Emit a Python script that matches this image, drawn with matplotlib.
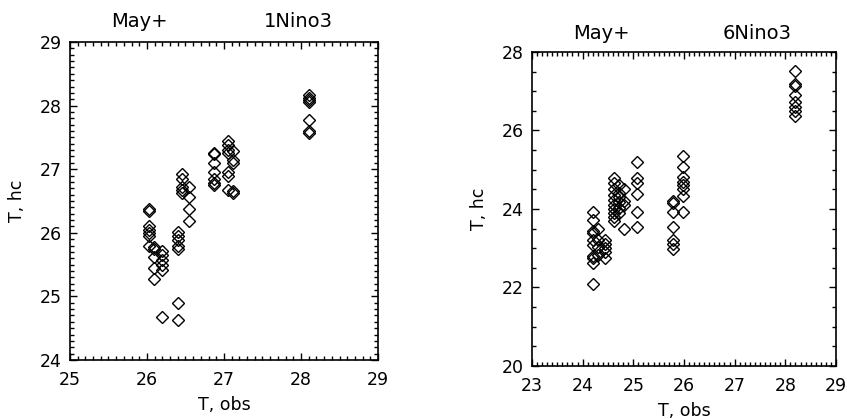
import matplotlib
matplotlib.use('Agg')
import matplotlib.pyplot as plt
from matplotlib.ticker import MultipleLocator

# values: one x (obs) per column, several hindcasts each
left_obs = [26.02, 26.09, 26.19, 26.40, 26.45, 26.54, 26.87, 27.05, 27.12, 28.11]
left_hc = [
    [26.37, 26.34, 26.10, 26.05, 26.00, 25.95, 25.80],
    [25.78, 25.75, 25.62, 25.45, 25.28],
    [25.72, 25.65, 25.58, 25.50, 25.42, 24.68],
    [26.02, 25.95, 25.88, 25.80, 25.75, 24.90, 24.63],
    [26.92, 26.85, 26.72, 26.68, 26.62],
    [26.72, 26.56, 26.38, 26.18],
    [27.26, 27.24, 27.10, 26.95, 26.85, 26.78, 26.75],
    [27.45, 27.38, 27.30, 27.25, 26.95, 26.90, 26.68],
    [27.28, 27.15, 27.10, 26.65, 26.62],
    [28.17, 28.12, 28.08, 28.05, 27.77, 27.60, 27.57],
]

right_obs = [24.20, 24.30, 24.45, 24.62, 24.72, 24.82, 25.07, 25.79, 25.99, 28.19]
right_hc = [
    [23.92, 23.72, 23.45, 23.40, 23.22, 23.08, 22.80, 22.75, 22.62, 22.10],
    [23.50, 23.20, 23.02, 22.82],
    [23.22, 23.10, 23.00, 22.90, 22.75],
    [24.80, 24.65, 24.50, 24.35, 24.22, 24.10, 24.00, 23.90, 23.80, 23.70],
    [24.60, 24.42, 24.30, 24.18, 24.02, 23.90],
    [24.50, 24.20, 24.10, 23.50],
    [25.19, 24.80, 24.65, 24.38, 23.92, 23.53],
    [24.20, 24.15, 23.92, 23.55, 23.20, 23.10, 22.98],
    [25.34, 25.08, 24.82, 24.70, 24.60, 24.52, 24.32, 23.93],
    [27.52, 27.18, 27.14, 26.90, 26.72, 26.60, 26.50, 26.38],
]

left_title = ('May+', '1Nino3')
right_title = ('May+', '6Nino3')


def flatten(obs, hc):
    xs, ys = [], []
    for x, col in zip(obs, hc):
        for y in col:
            xs.append(x)
            ys.append(y)
    return xs, ys


def draw_panel(fig, rect, obs, hc, xlim, ylim, xminor, ymajor, yminor, titles, title_y):
    ax = fig.add_axes(rect)
    xs, ys = flatten(obs, hc)
    ax.plot(xs, ys, linestyle='none', marker='D', markersize=6.2,
            markerfacecolor='none', markeredgecolor='black', markeredgewidth=1.0)
    ax.set_xlim(*xlim)
    ax.set_ylim(*ylim)
    ax.xaxis.set_major_locator(MultipleLocator(1))
    ax.xaxis.set_minor_locator(MultipleLocator(xminor))
    ax.yaxis.set_major_locator(MultipleLocator(ymajor))
    ax.yaxis.set_minor_locator(MultipleLocator(yminor))
    ax.tick_params(which='both', direction='in', top=True, right=True,
                   width=1.0, labelsize=12.5)
    ax.tick_params(axis='x', pad=8)
    ax.tick_params(axis='y', pad=6)
    ax.tick_params(which='major', length=5)
    ax.tick_params(which='minor', length=3)
    for s in ax.spines.values():
        s.set_linewidth(1.2)
    ax.set_xlabel('T, obs', fontsize=12.5, labelpad=5)
    ax.set_ylabel('T, hc', fontsize=12.5, labelpad=10)
    ax.text(0.227, title_y, titles[0], transform=ax.transAxes, ha='center',
            va='center', fontsize=14)
    ax.text(0.74, title_y, titles[1], transform=ax.transAxes, ha='center',
            va='center', fontsize=14)
    return ax


fig = plt.figure(figsize=(8.47, 4.19), dpi=100)
plt.rcParams['font.family'] = ['DejaVu Sans']

draw_panel(fig, [0.0826, 0.1408, 0.3637, 0.759], left_obs, left_hc,
           (25, 29), (24, 29), 0.1, 1, 0.1, left_title, 1.063)
draw_panel(fig, [0.628, 0.1265, 0.359, 0.7494], right_obs, right_hc,
           (23, 29), (20, 28), 0.1, 2, 0.5, right_title, 1.06)

fig.savefig('out.png', dpi=100)
